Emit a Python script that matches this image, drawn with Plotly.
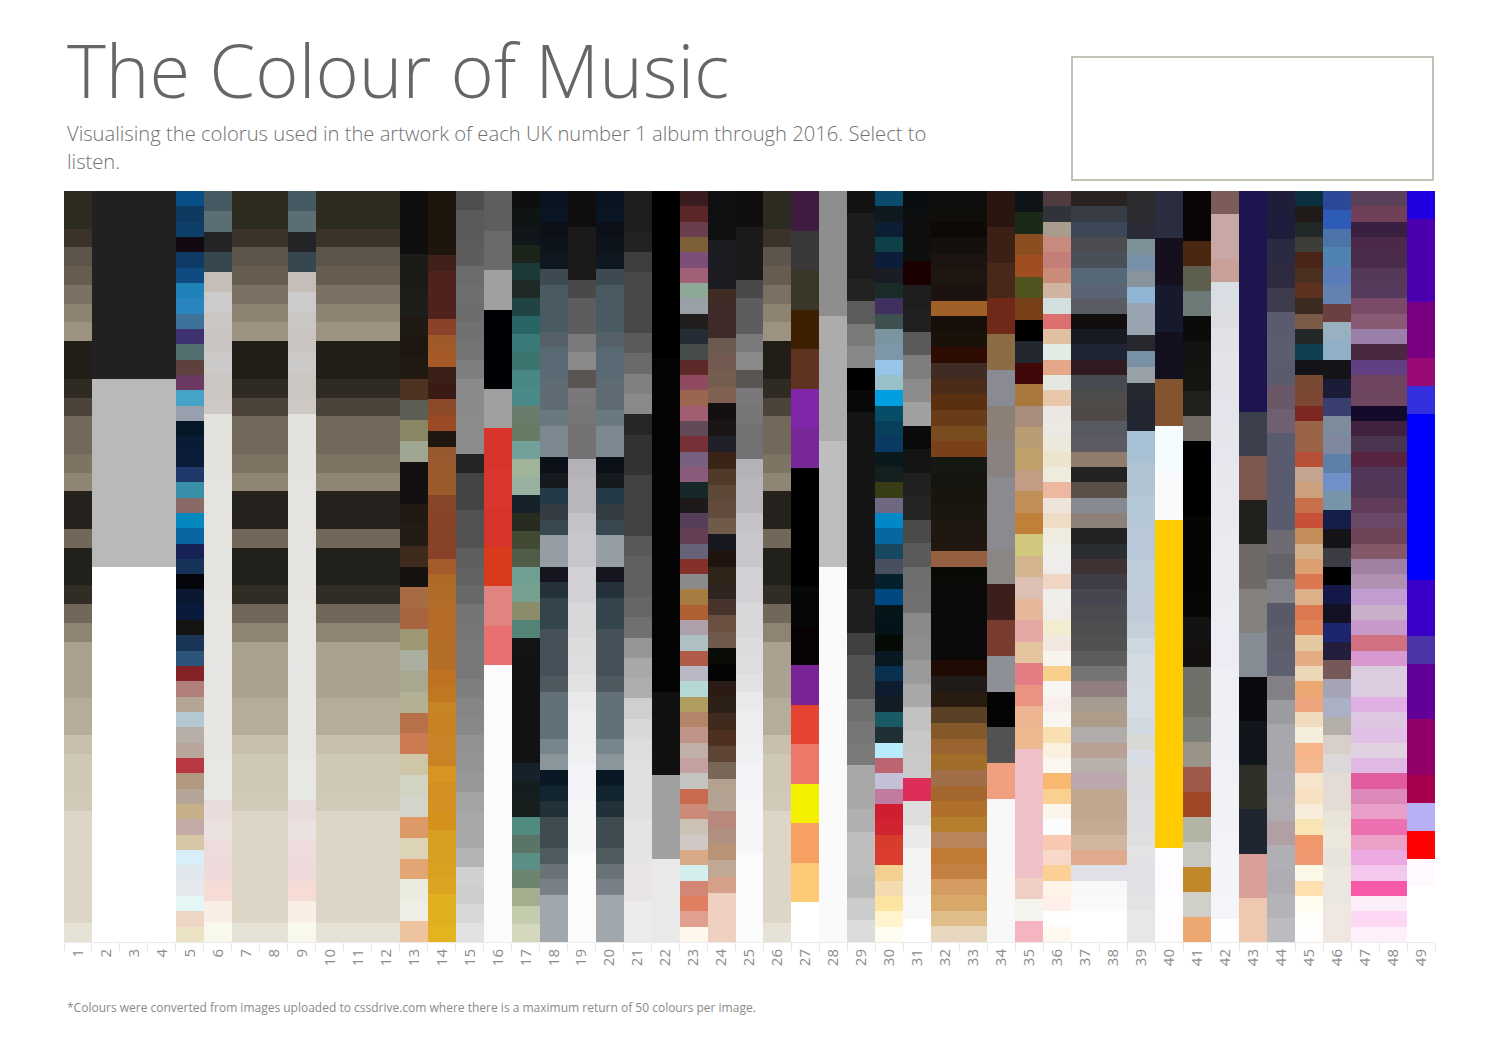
import plotly.graph_objects as go

album_numbers = [str(i) for i in range(1, 50)]

# colours of each album artwork, listed top to bottom; each entry is one equal share
col01 = ["#2d2a1f","#2d2a1f","#3b3229","#5d554a","#665c4f","#7b7162","#8c8373","#9b9281","#201e17","#201e17",
         "#302b22","#4c443b","#72695b","#72695b","#7e7464","#8f8574","#25221d","#25221d","#71685a","#22201a",
         "#22201a","#322d24","#71685a","#8e8473","#aaa191","#aaa191","#aaa191","#b5ac9c","#b5ac9c","#c8bfae",
         "#d0c8b7","#d0c8b7","#d2cab9","#ddd5c5","#ddd5c5","#ddd5c5","#ddd5c5","#ddd5c5","#ddd5c5","#e6e2d6"]
col02 = ["#222121","#b9b9b9","#ffffff","#ffffff"]
col03 = col02
col04 = col02
col05 = ["#0a5088","#0f3a60","#0d3f68","#120a10","#0e3a66","#0f4a80","#1f82b8","#2a85bf","#3d739a","#3d3170",
         "#526e6e","#5e403c","#6b3a62","#45a3c7","#98a0ae","#061828","#0a1c35","#0a1c38","#21386a","#3a8fa8",
         "#8a6a66","#0588c0","#0a66a0","#162255","#16345a","#05060b","#0a1832","#0a1a3c","#161412","#1a3458",
         "#2a5478","#842228","#b07f7a","#b5a594","#b3c8d0","#b5afa8","#b8a59b","#b83844","#b39880","#b5a598",
         "#c6b08a","#c4aaa6","#d6c7a7","#d8eef8","#e0e8ee","#e5e8ec","#e4f6f6","#eed6c4","#ece2c4"]
col06 = ["#455a62","#5a6e74","#222426","#364750","#c4bdb8","#cccaca","#cac6c4","#cac5c3","#cccac8","#ccc6c2",
         "#cdc8c4","#e2e2de","#e3e2df","#e3e2dd","#e4e3df","#e3e3e0","#e4e3e0","#e5e4e1","#e4e4e0","#e5e4e0",
         "#e6e5e2","#e6e5e2","#e5e5e2","#e6e5e3","#e6e5e2","#e7e6e2","#e8e6e3","#e6e5e2","#e8e7e4","#e6e8e4",
         "#eadcdc","#ebe1e0","#eedcdc","#eedada","#f6dcd4","#f8eee6","#f8f8ec"]
col07 = col01
col08 = col01
col09 = col06
col10 = col01
col11 = col01
col12 = col01
col13 = ["#0e0e0e","#0e0e0e","#0e0e0e","#1b1c18","#1b1b18","#1d1e1a","#201a14","#1e1610","#221a12","#4e3322",
         "#5a5e54","#8a8562","#9fa792","#141010","#141010","#201a12","#221c14","#3e2b1e","#161210","#a86c44",
         "#a86440","#9f9674","#a9ae9f","#a8a890","#b4b096","#b87048","#cc7a52","#cfc6a8","#d0d4c2","#d2d6ca",
         "#dd9a68","#ddd4b8","#e3a574","#ecebe0","#eeeee4","#eec4a0"]
col14 = ["#1e160c","#1e160c","#1e160c","#1e160c","#42201a","#50221e","#50221e","#50221e","#8a4228","#a05a2a",
         "#a65a28","#3a2016","#3a1a14","#8c4a2a","#9a4a24","#201810","#985830","#9a5a2e","#9a5a2c","#884628",
         "#884228","#884428","#884228","#a65c2a","#b06a28","#b06c28","#b46c28","#b46c28","#b46e28","#b56e28",
         "#bf7222","#c07820","#c68424","#c88224","#c88426","#c88424","#d89422","#d39022","#d49022","#d4921c",
         "#d8a020","#d8a020","#daa020","#dca420","#e0b020","#e0b020","#e4b420"]
col15 = ["#4e4e4e","#5a5a5a","#5b5b5b","#5d5d5d","#6c6c6c","#6e6e6e","#6d6d6d","#717171","#747474","#7e7e7e",
         "#8a8a8a","#8a8a8a","#8b8b8b","#8c8c8c","#242424","#444444","#444444","#525252","#525252","#5e5e5e",
         "#626262","#686868","#747474","#767676","#787878","#787878","#7f7f7f","#858585","#888888","#929292",
         "#949494","#989898","#a4a4a4","#a8a8a8","#a8a8a8","#b4b4b4","#d0d0d0","#cdcdcd","#d8d8d8","#e2e2e2"]
col16 = ["#5e5e5e","#6a6a6a","#a0a0a0","#000005","#000005","#a0a0a0","#d8342c","#d8362e","#d8342c","#d83a1c",
         "#e08480","#e87070","#fbfbfb","#fbfbfb","#fbfbfb","#fbfbfb","#fbfbfb","#fbfbfb","#fbfbfb"]
col17 = ["#0f0f0f","#0f1414","#10161a","#1a2418","#1c3838","#1f2a26","#204444","#286464","#3a7a78","#3e7470",
         "#4a8884","#4a8a88","#6a7c6c","#687c64","#70a098","#a0b49a","#98b0a0","#16222a","#282c20","#424a34",
         "#4e5c48","#70a094","#78a090","#8a8c6c","#548478","#141414","#121414","#121414","#121414","#121414",
         "#121414","#121414","#16222a","#141e1e","#161e1e","#508a80","#5a7466","#5a8e86","#6c8470","#a4ae8e",
         "#c4ccae","#d4d8bc"]
col18 = ["#0a1420","#0b1624","#0d1018","#0e141c","#0f1820","#3e4a52","#4a5a62","#4a5a62","#4a5a62","#566068",
         "#5a6a74","#5a6a74","#606c74","#606c74","#6a7880","#7c8890","#7c8890","#0c1018","#141a1e","#243a48",
         "#343c44","#384850","#949ea4","#949ea4","#16141e","#24303a","#34444c","#34444c","#465058","#465058",
         "#465058","#4e5a60","#627078","#627078","#627078","#76848c","#8a969c","#081824","#122430","#22303a",
         "#3e4c52","#3e4c52","#4e5c60","#6a7478","#7a8088","#a0a8ae","#a0a8ae","#a0a8ae"]
col19 = ["#0f0e0c","#0f0e0c","#1c1a18","#1c1a18","#1c1a18","#4a4848","#5e5c5e","#5e5c5e","#7a797c","#8a898a",
         "#5a5452","#7a787a","#777576","#737172","#737172","#b4b2b6","#b8b6ba","#b8b6ba","#c4c2c6","#c8c6ca",
         "#c8c6ca","#d2d0d4","#d2d0d4","#d8d8da","#d8d8da","#dcdcdc","#dddde0","#e2e2e2","#eaeaec","#ededf0",
         "#ededf0","#eff0f2","#f4f4f8","#f4f4f8","#f6f6f8","#f6f6f8","#f6f6f8","#fbfbfb","#fbfbfb","#fbfbfb",
         "#fbfbfb","#fbfbfb"]
col20 = col18
col21 = ["#1e1e1e","#1e1e1e","#222222","#3e3e3e","#484848","#484848","#484848","#5a5a5a","#6a6a6a","#808080",
         "#8a8a8a","#262626","#323232","#323232","#424242","#424242","#424242","#585858","#606060","#606060",
         "#666666","#707070","#969696","#a8a8a8","#aeaeae","#cfcfcf","#d8d8d8","#dedcdc","#e0e0e0","#e0e0e0",
         "#e0e0e0","#e4e4e4","#e4e4e4","#e8e4e4","#e8e4e4","#ececec","#ececec"]
col22 = ["#000000","#000000","#040404","#040404","#040404","#040404","#111111","#a0a0a0","#e9e9e9"]
col23 = ["#3a1c20","#5a2626","#6a3e4c","#7e6038","#7c4e78","#a06078","#8ea898","#9aa0a8","#221e1e","#262c36",
         "#464c4c","#5c2828","#904a60","#9a6650","#a05e70","#624a58","#783038","#786080","#8a5a7a","#16282a",
         "#1e1a1c","#553e58","#643e52","#686278","#86302a","#8a8a8a","#a67c40","#ae6030","#aea0aa","#aec0c4",
         "#b05a48","#b8b8c4","#b4d8d6","#b09e60","#b48468","#c09488","#c0b0a8","#c4a0a0","#c4c4c0","#c86a50",
         "#cc8a78","#ccc2b4","#d0c8c4","#d8aa88","#d4eeee","#d48674","#e07e60","#e0a090","#fef8ec"]
col24 = ["#101012","#101012","#101012","#1c1c22","#1c1c22","#1c1c22","#3e2c24","#3e2a28","#3e2a28","#6a5a50",
         "#735a50","#745c4e","#806050","#141012","#1a1414","#20202a","#3a2418","#503a2a","#5e4838","#624a3c",
         "#705a4a","#181820","#201410","#302418","#302420","#48342c","#6a5040","#705a4c","#0a0c08","#040404",
         "#2a1c14","#2c2018","#402a1e","#4e3020","#5e4434","#786656","#b4a290","#b4a292","#b8887c","#b09080",
         "#b89474","#c0a896","#d4a088","#f0d0c0","#f0d0c0","#f0d0c0"]
col25 = col19
col26 = col01
col27 = ["#401c40","#3a3838","#3a3628","#3e2000","#5e3420","#8026a8","#782896","#000000","#000000","#000000",
         "#060808","#080206","#782496","#e44430","#ec7868","#f4f000","#f6a064","#fcca74","#ffffff"]
col28 = ["#8e8e8e","#acacac","#bebebe","#fafafa","#fafafa","#fafafa"]
col29 = ["#121212","#1c1c1c","#1c1c1c","#1c1c1c","#222222","#5c5c5c","#7a7a7a","#888888","#000000","#080808",
         "#141414","#141414","#141414","#141414","#141414","#141414","#141414","#141414","#1e1e1e","#1e1e1e",
         "#404040","#525252","#525252","#6e6e6e","#767676","#7a7a7a","#a8a8a8","#a8a8a8","#b0b0b0","#bebebe",
         "#bebebe","#bababa","#cccccc","#dcdcdc"]
col30 = ["#0a4a6c","#0e1a20","#0c1e34","#0e4048","#0e1c3c","#1a1c26","#1a2c2a","#403060","#3e5050","#7a94a0",
         "#7c98a8","#98c4e8","#98c0c8","#00a0e0","#064e68","#08405c","#0a3a62","#0a1a1c","#122020","#383c14",
         "#706880","#0088c8","#0668a0","#184860","#485060","#04202c","#004880","#041418","#04121a","#060a04",
         "#081820","#0a3050","#0e1c30","#121e26","#1a5a64","#1e3036","#b8ecfa","#bc6470","#c4c0d8","#c07ca0",
         "#d01e30","#d22430","#d83c2c","#da3c30","#f4d090","#f4dcb0","#fce4a0","#fff4cc","#fffcf0"]
col31 = ["#0a0e10","#0e0e0e","#0e1010","#1a0000","#1e1e1e","#202020","#5a5a5a","#7e7e7e","#8c8c8c","#a0a0a0",
         "#0a0a0a","#141414","#202020","#242424","#4a4a4a","#5a5a5a","#6e6e6e","#707070","#8a8a8a","#8e8e8e",
         "#9a9a9a","#a8a8a8","#c2c2c2","#c8c8c8","#cacaca","#dc2e58","#dddddd","#eaeaea","#f4f4f4","#f4f4f4",
         "#f8f8f8","#ffffff"]
col32 = ["#0e0e0e","#100e0a","#0e0806","#14100c","#1c1410","#1e1610","#1c1210","#a06028","#160e08","#1a1208",
         "#2e0c04","#402c24","#4a2c18","#5a3010","#683c18","#784c1e","#7a4018","#141810","#16140e","#18140e",
         "#1c1610","#1e1810","#201810","#946040","#080a06","#0c0a08","#0a0a0a","#0a0a0a","#0a0a0a","#0a0a0a",
         "#200a04","#201a18","#281c10","#5a4024","#845828","#9a6430","#a06e28","#a06e48","#a4682e","#b0702c",
         "#b47e2c","#b8845c","#c07a34","#c48040","#d49c60","#d8a868","#e0bc88","#e8d8c0"]
col33 = col32
col34 = ["#2a1410","#3c2016","#482818","#702818","#8c6c44","#8a8a94","#8a8078","#8a8280","#8a8a90","#8a8a90",
         "#8a8684","#3c1e1c","#783c30","#8e9098","#040404","#525252","#f0a080","#f8f8f8","#f8f8f8","#f8f8f8",
         "#f8f8f8"]
col35 = ["#0e1418","#1a2a18","#8a4e20","#a04e20","#525420","#784018","#000000","#22262e","#400808","#a8783c",
         "#a88c7c","#b89c74","#c0a06a","#c49c84","#c09058","#c08038","#d0c87c","#d4b48c","#dcc0b4","#e4b898",
         "#e4a8a4","#e4c49c","#e47c84","#e89480","#ecb490","#ecb890","#f0c0c8","#f0c0c8","#f0c0c8","#f0c0c8",
         "#f0c0c8","#f0c0c8","#f0d0c4","#f4f4ee","#f4b4c0"]
col36 = ["#503c3e","#30343a","#aa9c8c","#c88a7c","#c47e7a","#c88c78","#d0b4a0","#d4e0e0","#dc7070","#e0c0a0",
         "#e0ece4","#e4a888","#e4e8e0","#e8c8a8","#ebe8e4","#ece8e2","#ece8dc","#ece4cc","#eeecdc","#ecb8a0",
         "#eee4da","#efdcc4","#f0ece0","#f0eee8","#f0ecec","#f0d4c4","#f0eeea","#f2ece8","#f2ecd0","#f2e8e0",
         "#f6f4ec","#f8d08c","#f8f6f2","#f8eeec","#f8f6f0","#f8e0b0","#faf0e0","#faf6f0","#f8b870","#fad090",
         "#faf6ec","#fcfcfc","#f8c8b0","#f8d8c8","#fcd094","#fef4e8","#fef0e8","#fefefe","#fef8ee"]
col37 = ["#2a2220","#383c44","#3c4858","#4a4c50","#4a5058","#566878","#5a6474","#5a5c64","#120e0e","#161a22",
         "#1e2434","#301c20","#484a52","#4e4c4a","#504a46","#585a62","#5c5a62","#907c6c","#242220","#5a5048",
         "#848a90","#8c8078","#242220","#2a2e32","#3e3232","#3e3c44","#464650","#4c4c50","#4e4e50","#505250",
         "#5c5e5e","#767474","#907e80","#a89c90","#ac9c88","#b0acaa","#b8a094","#b8b0aa","#bca8ac","#c0a890",
         "#c0a890","#c4ac94","#d0b8a0","#e0aa8c","#e0e0e8","#f8f8f8","#fafafa","#ffffff","#ffffff"]
col38 = col37
col39 = ["#2c2c2e","#2c2c30","#2a2a38","#7c9098","#7890a8","#88949c","#90b4d4","#98a4b0","#98a4b0","#26282e",
         "#7890a4","#98a0a8","#262830","#222630","#222630","#a8c0d4","#a8c0d4","#b0c4d4","#b0c4d4","#b4c8d8",
         "#b4c8d8","#b8c8d8","#b8c8d8","#bcccd8","#bcccd8","#c0ccd8","#c0ccd8","#c4d0d8","#ccd8e0","#d4dce2",
         "#d4dce2","#d4dce4","#d4dce4","#d0d8e0","#d8d8d4","#d8dce4","#dcdcdc","#dcdce0","#dcdee2","#dcdee2",
         "#e0dee0","#e4e2e4","#e2e2e6","#e2e2e6","#e4e2e2","#e8e6e6","#e8e6e6"]
col40 = ["#2a2c40","#16101e","#161a2c","#12101e","#845430","#f4fcfe","#fafafc","#ffcc00","#ffcc00","#ffcc00",
         "#ffcc00","#ffcc00","#ffcc00","#ffcc00","#fffcff","#fffcff"]
col41 = ["#0a0404","#0a0404","#4a2810","#5e5e4e","#6e7a78","#0a0c0a","#121210","#161410","#20201c","#746a64",
         "#000000","#000000","#000000","#040606","#040606","#040606","#060808","#121414","#141010","#70706a",
         "#707068","#7c7e7a","#9a9488","#a05848","#a04828","#b4b4a4","#c8c8c0","#c08828","#d0d0c8","#eca870"]
col42 = ["#7c5c58","#c8a8a4","#c8a8a4","#c8a098","#d8dee4","#dcdee4","#e0e2e8","#e2e4ea","#e2e4ea","#e4e4ec",
         "#e4e6ec","#e6e6ee","#e6e8ee","#e8e8ee","#e8eaf0","#eaeaf0","#eaecf2","#eaecf2","#ecedf2","#ecedf4",
         "#ecedf4","#eeeff4","#eeeff4","#eef0f4","#eef0f6","#f0f1f6","#f0f2f6","#f0f2f6","#f1f3f6","#f2f4f8",
         "#f2f4f8","#f4f5f8","#fcfeff"]
col43 = ["#1e1450","#1e1450","#1e1450","#1e1450","#1e1450","#3c404c","#7c5850","#22201c","#706a66","#84807e",
         "#868c94","#080a0e","#10161c","#303028","#202630","#d8a098","#f0c8b0"]
col44 = ["#1e1e3a","#1e1e3c","#2a2a40","#2e2a40","#3e3c4c","#5a5c6e","#5a5e6e","#5a5c6c","#6a5868","#6e6070",
         "#585c6e","#585c6e","#585c6e","#585c6e","#6e6c72","#646468","#808088","#585a6a","#5c5e6c","#5e6070",
         "#848088","#9c9ca0","#a8a8ac","#a8a8ac","#aaa8b0","#aeacb0","#b0a0a4","#b0b0b4","#aeaeb2","#b4b4b8",
         "#bcbcc0"]
col45 = ["#0a3040","#201a18","#202828","#3e3e38","#4a2418","#4a3020","#5e3020","#3a2a20","#7c5a48","#222828",
         "#104050","#141418","#784a34","#7c4834","#7c2820","#9a6448","#9a6448","#b85038","#c4a490","#cca07c",
         "#c8704c","#c85038","#c48c58","#d4b088","#dca070","#da7650","#dcb088","#dc7850","#e08458","#e4c8a0",
         "#e4ac84","#ecd8b8","#eca870","#eea47c","#f0dcbc","#f6eedc","#f6b488","#f4b890","#f6e4cc","#f6e0c0",
         "#f8ecdc","#f8e4b4","#f0986c","#f09870","#fcf8e8","#fee0b0","#fffcf0","#fffefa","#fffefc"]
col46 = ["#2c4898","#2c5cb8","#4c74a8","#5084b0","#5a7cb8","#6482b0","#6a4040","#98b0c0","#90b0c8","#141418",
         "#1a1c38","#383e70","#7c8c9c","#8088a0","#5c80a8","#7090c8","#7894a8","#141e48","#141418","#3c3c44",
         "#000000","#141848","#121222","#1c2670","#241e3c","#765858","#a4a4b4","#acb0c4","#b4aea8","#d8d0c8",
         "#dcd8d8","#e4dcd4","#e4dcd4","#e8e4d8","#ece8dc","#e8e4dc","#ece8e0","#ece6e0","#eee8e0","#f0e8e0"]
col47 = ["#5a4058","#704058","#3a2040","#4a2a48","#4a2c4a","#543a58","#563a5c","#7a4a68","#8a5a74","#9a80a8",
         "#4a2840","#604080","#6e4460","#6e4660","#120a28","#40223e","#4a3450","#562440","#523658","#523656",
         "#603c58","#6a4868","#6e4458","#845868","#a080a0","#b090b0","#c09cd0","#c8b0c8","#c898c8","#d07080",
         "#d898d0","#dccce0","#dccce0","#e0b0e4","#dcc8e0","#e0c0e4","#e0d0e0","#e0b8e4","#e05c9c","#dc88b8",
         "#e8a0c8","#ec70b0","#eca0c8","#eca8e0","#f4c8ec","#f858a8","#fceef8","#fcd8f4","#fef0fa"]
col48 = col47
col49 = ["#2000e0","#4c00b0","#4c00b0","#4c00b0","#780080","#780080","#9a0a74","#3430e0","#0000ff","#0000ff",
         "#0000ff","#0000ff","#0000ff","#0000ff","#3800c8","#3800c8","#4c34a8","#600098","#600098","#900068",
         "#900068","#a4004c","#b8b0f4","#ff0000","#fff8ff","#ffffff","#ffffff"]

album_colours = [col01, col02, col03, col04, col05, col06, col07, col08, col09, col10,
                 col11, col12, col13, col14, col15, col16, col17, col18, col19, col20,
                 col21, col22, col23, col24, col25, col26, col27, col28, col29, col30,
                 col31, col32, col33, col34, col35, col36, col37, col38, col39, col40,
                 col41, col42, col43, col44, col45, col46, col47, col48, col49]

title_text = "The Colour of Music"
subtitle_line1 = "Visualising the colorus used in the artwork of each UK number 1 album through 2016. Select to"
subtitle_line2 = "listen."
footnote_text = ("*Colours were converted from images uploaded to cssdrive.com where there is a "
                 "maximum return of 50 colours per image.")

FONT = "Open Sans"

fig = go.Figure()
max_n = max(len(c) for c in album_colours)
for k in range(max_n):
    heights, colours = [], []
    for col in album_colours:
        n = len(col)
        if k < n:
            heights.append(1.0 / n)
            colours.append(col[n - 1 - k])   # stack from the bottom up
        else:
            heights.append(0)
            colours.append("rgba(0,0,0,0)")
    fig.add_trace(go.Bar(x=album_numbers, y=heights,
                         marker=dict(color=colours, line=dict(width=0)),
                         showlegend=False, hoverinfo="skip"))

fig.update_layout(
    width=1499, height=1049,
    margin=dict(l=64, r=64, t=191, b=107),
    paper_bgcolor="white", plot_bgcolor="white",
    barmode="stack", bargap=0,
    font=dict(family=FONT),
    xaxis=dict(type="category", tickangle=-90,
               tickfont=dict(family=FONT, size=15, color="#8c8c8c"),
               ticks="outside", tickson="boundaries", ticklen=8,
               tickcolor="#e6e6e6", tickwidth=1,
               showline=True, linecolor="#ececec", linewidth=1,
               showgrid=False, zeroline=False, fixedrange=True),
    yaxis=dict(range=[0, 1], visible=False, fixedrange=True),
)

def py(y_px):
    return (942 - y_px) / 751.0

fig.add_annotation(text=title_text, xref="paper", yref="paper",
                   x=0, y=py(69), xanchor="left", yanchor="middle", xshift=1,
                   showarrow=False, font=dict(family=FONT, size=74, color="#666666", weight=300))
fig.add_annotation(text=subtitle_line1,
                   xref="paper", yref="paper", x=0, y=py(133), xanchor="left", yanchor="middle", xshift=1,
                   showarrow=False, font=dict(family=FONT, size=20.2, color="#727272", weight=300))
fig.add_annotation(text=subtitle_line2, xref="paper", yref="paper", x=0, y=py(161),
                   xanchor="left", yanchor="middle", xshift=1,
                   showarrow=False, font=dict(family=FONT, size=20.2, color="#727272", weight=300))
fig.add_annotation(text=footnote_text,
                   xref="paper", yref="paper", x=0, y=py(1007), xanchor="left", yanchor="middle", xshift=1,
                   showarrow=False, font=dict(family=FONT, size=12, color="#8a8a8a"))

fig.add_shape(type="rect", xref="paper", yref="paper",
              x0=(1072 - 64) / 1371.0, x1=(1433 - 64) / 1371.0,
              y0=py(180), y1=py(57),
              line=dict(color="#b0ad9f", width=1.5), fillcolor="rgba(0,0,0,0)")

fig.write_html("out.html")
